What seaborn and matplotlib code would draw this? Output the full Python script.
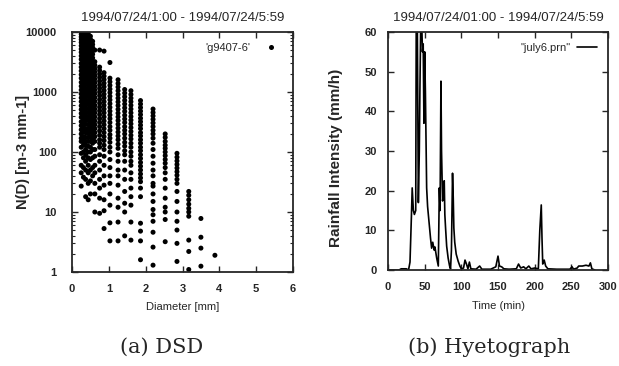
import matplotlib
matplotlib.use('Agg')
import matplotlib.pyplot as plt
import pandas as pd
import seaborn as sns

# --- DSD data: drop concentration N(D) read per diameter class ---
dsd_columns = {
    0.25: [10000, 9200, 8300, 7500, 6700, 5900, 5200, 4600, 4000, 3500, 3000, 2600, 2250, 1950, 1700,
           1450, 1250, 1080, 930, 800, 690, 590, 510, 440, 380, 320, 275, 235, 200, 170, 150, 120, 95,
           60, 45, 27],
    0.31: [10000, 9000, 8100, 7200, 6400, 5700, 5000, 4400, 3850, 3350, 2900, 2500, 2150, 1850, 1600,
           1380, 1190, 1020, 880, 760, 650, 560, 480, 410, 350, 300, 255, 215, 180, 155, 130, 100, 80,
           55, 38],
    0.37: [9800, 8800, 7900, 7000, 6200, 5500, 4850, 4250, 3700, 3250, 2800, 2450, 2100, 1800, 1550,
           1340, 1150, 990, 850, 730, 630, 540, 460, 395, 340, 290, 245, 210, 175, 150, 130, 110, 90,
           70, 50, 35, 18],
    0.44: [9500, 8500, 7600, 6800, 6000, 5300, 4700, 4150, 3600, 3150, 2750, 2400, 2050, 1780, 1530,
           1320, 1130, 970, 840, 720, 620, 530, 455, 390, 335, 285, 240, 205, 175, 150, 125, 100, 80,
           60, 45, 30, 16],
    0.50: [8500, 7600, 6800, 6000, 5300, 4650, 4100, 3600, 3150, 2750, 2400, 2100, 1820, 1580, 1370,
           1180, 1020, 880, 760, 650, 560, 480, 410, 350, 300, 255, 215, 180, 150, 120, 100, 75, 50,
           33, 20],
    0.56: [7000, 6200, 5500, 4850, 4250, 3700, 3250, 2850, 2500, 2150, 1870, 1620, 1400, 1210, 1040,
           900, 780, 670, 580, 500, 430, 370, 315, 270, 230, 195, 165, 140, 110, 80, 55, 40],
    0.62: [5000, 3200, 2800, 2450, 2150, 1880, 1640, 1430, 1240, 1080, 940, 810, 700, 600, 520, 450,
           385, 330, 285, 245, 210, 180, 150, 110, 85, 60, 45, 30, 20, 10],
    0.75: [5000, 2600, 2280, 2000, 1750, 1520, 1320, 1150, 1000, 870, 750, 650, 560, 485, 420, 360,
           310, 265, 225, 190, 160, 140, 120, 90, 70, 50, 35, 25, 17, 9.5],
    0.87: [4800, 2100, 1840, 1610, 1400, 1220, 1060, 920, 800, 690, 600, 520, 450, 385, 330, 285, 245,
           210, 180, 155, 130, 110, 85, 60, 40, 28, 16, 10.5, 5.3],
    1.03: [3100, 1700, 1480, 1290, 1120, 980, 850, 740, 640, 555, 480, 415, 360, 310, 265, 230, 195,
           170, 145, 120, 100, 75, 55, 40, 30, 20, 13, 6.6, 3.3],
    1.25: [1600, 1390, 1210, 1050, 910, 790, 685, 595, 515, 445, 385, 335, 290, 250, 215, 185, 160,
           135, 115, 90, 70, 50, 40, 28, 17, 12, 6.8, 3.3],
    1.43: [1100, 960, 835, 725, 630, 545, 475, 410, 355, 310, 265, 230, 200, 170, 145, 125, 105, 90,
           70, 50, 35, 22, 14, 10, 4],
    1.60: [1050, 910, 790, 690, 600, 520, 450, 390, 340, 295, 255, 220, 190, 165, 140, 120, 100, 85,
           70, 60, 45, 35, 25, 18, 13, 6.8, 3.4],
    1.86: [720, 630, 550, 480, 420, 365, 320, 280, 245, 210, 185, 160, 140, 120, 105, 90, 78, 67, 58,
           50, 43, 37, 32, 25, 18, 6.5, 4.8, 3.3, 1.6],
    2.20: [520, 455, 400, 350, 305, 265, 230, 200, 170, 140, 110, 85, 65, 50, 40, 30, 27, 20, 15, 11,
           9, 7, 4.6, 2.6, 1.3],
    2.53: [200, 175, 150, 130, 115, 100, 87, 75, 65, 55, 45, 35, 25, 17, 12, 10, 7.5, 3.2],
    2.85: [95, 82, 71, 62, 54, 47, 41, 35, 30, 22, 15, 10, 7, 5, 3, 1.5],
    3.17: [22, 19, 16, 13.5, 11.5, 10, 8.5, 3.4, 2.2, 1.1],
    3.50: [7.8, 3.8, 2.5, 1.25],
    3.88: [1.9],
}

# --- hyetograph: rainfall intensity (mm/h) vs time (min) ---
time_min = [0, 15, 18, 25, 28, 30, 32, 33, 34.6, 36, 37.8, 38.5, 40, 41.4, 42.7, 43.5, 44.6, 46, 47,
            48, 49, 50, 51, 52.7, 54, 56, 58, 59.5, 61, 63, 64, 66.4, 68.6, 70, 71, 72.2, 73, 74.4,
            75.5, 76.7, 77.5, 78.5, 80, 82, 84, 85.3, 86.5, 88, 89, 89.8, 91, 93, 95.7, 98, 100, 103,
            105, 107, 109, 111, 113, 120, 125, 128, 140, 147, 150, 152, 155, 158, 165, 175, 178, 181,
            185, 188, 192, 195, 200, 205, 207, 209, 210, 211, 213, 215, 218, 230, 248, 251, 253, 258,
            260, 265, 270, 274, 276, 278, 282]
rain_mmh = [0, 0, 0.3, 0.3, 0, 2, 14, 20.7, 15, 14, 15, 62, 62, 17, 30, 45, 62, 62, 55,
            57, 37, 55, 45, 20.7, 16, 12, 8, 5.5, 7, 5, 5.8, 3, 1, 20.7, 15, 47.6, 30, 17.4,
            19, 22.5, 14, 10.6, 6, 3, 1, 0.3, 5, 24.4, 18, 10.6, 7, 4, 2.2, 1, 0.3, 0.5,
            2.5, 1.5, 0.3, 2, 0.3, 0.2, 1, 0.2, 0.2, 0.8, 3.5, 1, 0.8, 0.3, 0.2, 0.3, 1.5, 0.5,
            0.8, 0.3, 1, 0.3, 0.5, 0.3, 10, 16.4, 8, 1.5, 2.5, 1, 0.3, 0.2, 0.2, 0.8, 0.2, 0.5,
            1, 1, 1.2, 1, 1.8, 0.3, 0]

log_ticks = [1, 10, 100, 1000, 10000]
log_tick_labels = ['1', '10', '100', '1000', '10000']
d_ticks = [0, 1, 2, 3, 4, 5, 6]
t_ticks = [0, 50, 100, 150, 200, 250, 300]
r_ticks = [0, 10, 20, 30, 40, 50, 60]

sns.set_style('ticks')
plt.rcParams['font.family'] = ['Liberation Sans Narrow', 'Liberation Sans', 'DejaVu Sans']
plt.rcParams['axes.linewidth'] = 1.3

dsd = pd.DataFrame([(d, n) for d, vals in dsd_columns.items() for n in vals],
                   columns=['diameter', 'nd'])
dsd['series'] = "'g9407-6'"
hyeto = pd.DataFrame({'time': time_min, 'rain': rain_mmh, 'series': '"july6.prn"'})

fig = plt.figure(figsize=(6.19, 3.66), dpi=100)
ax1 = fig.add_axes([72 / 619, 1 - 272 / 366, 221 / 619, 240 / 366])
ax2 = fig.add_axes([388 / 619, 1 - 270 / 366, 220 / 619, 238 / 366])

# (a) DSD scatter
sns.scatterplot(data=dsd, x='diameter', y='nd', hue='series', palette=['black'],
                s=13, linewidth=0, ax=ax1)
ax1.set_yscale('log')
ax1.set_xlim(0, 6)
ax1.set_ylim(1, 10000)
ax1.set_xticks(d_ticks)
ax1.set_xticklabels([str(t) for t in d_ticks])
ax1.set_yticks(log_ticks)
ax1.set_yticklabels(log_tick_labels)
ax1.set_title('1994/07/24/1:00 - 1994/07/24/5:59', fontsize=9.5, pad=8)
ax1.set_xlabel('Diameter [mm]', fontsize=8, family=['Liberation Sans', 'DejaVu Sans'])
ax1.set_ylabel('N(D) [m-3 mm-1]', fontsize=10.5, fontweight='bold',
               family=['Liberation Sans', 'DejaVu Sans'])
ax1.xaxis.set_label_coords(0.5, -0.125)
ax1.yaxis.set_label_coords(-0.19, 0.5)
ax1.legend(loc='upper right', frameon=False, markerfirst=False, fontsize=8,
           handletextpad=0.8, borderaxespad=0.6, markerscale=1.0)

# (b) hyetograph line
sns.lineplot(data=hyeto, x='time', y='rain', hue='series', palette=['black'],
             estimator=None, sort=False, linewidth=1.2, ax=ax2)
ax2.set_xlim(0, 300)
ax2.set_ylim(0, 60)
ax2.set_xticks(t_ticks)
ax2.set_yticks(r_ticks)
ax2.set_title('1994/07/24/01:00 - 1994/07/24/5:59', fontsize=9.5, pad=8)
ax2.set_xlabel('Time (min)', fontsize=8, family=['Liberation Sans', 'DejaVu Sans'])
ax2.set_ylabel('Rainfall Intensity (mm/h)', fontsize=11, fontweight='bold',
               family=['Liberation Sans', 'DejaVu Sans'])
ax2.xaxis.set_label_coords(0.5, -0.13)
ax2.yaxis.set_label_coords(-0.205, 0.47)
ax2.legend(loc='upper right', frameon=False, markerfirst=False, fontsize=8,
           handlelength=1.8, handletextpad=0.6, borderaxespad=0.6)

for ax in (ax1, ax2):
    ax.tick_params(which='major', direction='in', top=True, right=True, length=4, width=1,
                   labelsize=8)
    ax.tick_params(which='minor', direction='in', top=True, right=True, length=2, width=0.8)
    for lab in ax.get_xticklabels() + ax.get_yticklabels():
        lab.set_fontweight('bold')
ax1.tick_params(axis='x', pad=9)
ax1.tick_params(axis='y', pad=11)
ax2.tick_params(axis='x', pad=9)
ax2.tick_params(axis='y', pad=8)

caption_font = ['DejaVu Serif']
fig.text(162 / 619, 1 - 347 / 366, '(a) DSD', ha='center', va='center', fontsize=15,
         family=caption_font)
fig.text(489 / 619, 1 - 347 / 366, '(b) Hyetograph', ha='center', va='center', fontsize=15,
         family=caption_font)

fig.savefig('out.png', dpi=100)
